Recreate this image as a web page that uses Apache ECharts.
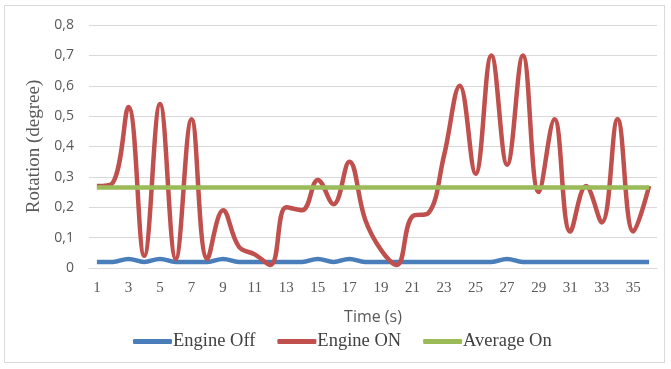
<!DOCTYPE html>
<html>
<head>
<meta charset="utf-8">
<script src="https://cdn.jsdelivr.net/npm/echarts@6/dist/echarts.min.js"></script>
<style>
  html, body { margin: 0; padding: 0; background: #fff; }
  #frame { position: absolute; left: 4px; top: 5px; width: 661px; height: 358px; border: 1px solid #d9d9d9; box-sizing: border-box; }
  #chart { width: 671px; height: 369px; }
</style>
</head>
<body>
<div id="frame"></div>
<div id="chart"></div>
<script>
// Time in seconds
const categories = Array.from({length: 36}, (_, i) => String(i + 1));

const engineOff = [0.02, 0.02, 0.03, 0.02, 0.03, 0.02, 0.02, 0.02, 0.03, 0.02, 0.02, 0.02,
                   0.02, 0.02, 0.03, 0.02, 0.03, 0.02, 0.02, 0.02, 0.02, 0.02, 0.02, 0.02,
                   0.02, 0.02, 0.03, 0.02, 0.02, 0.02, 0.02, 0.02, 0.02, 0.02, 0.02, 0.02];

const engineOn = [0.27, 0.28, 0.53, 0.04, 0.54, 0.03, 0.49, 0.03, 0.19, 0.07, 0.045, 0.01,
                  0.20, 0.19, 0.29, 0.21, 0.35, 0.16, 0.06, 0.01, 0.17, 0.18, 0.37, 0.60,
                  0.31, 0.70, 0.34, 0.70, 0.25, 0.49, 0.12, 0.27, 0.15, 0.49, 0.12, 0.27];

const averageOn = categories.map(() => 0.265);

const yTicks = [0, 0.1, 0.2, 0.3, 0.4, 0.5, 0.6, 0.7, 0.8];

const chart = echarts.init(document.getElementById('chart'));
const serif = '"Liberation Serif", "DejaVu Serif", serif';
const sans = '"Open Sans", "Liberation Sans", sans-serif';

const lineSeries = (name, data, color) => ({
  name, type: 'line', data, smooth: 0.4, symbol: 'none',
  lineStyle: { color, width: 4.5 }, itemStyle: { color }
});

chart.setOption({
  animation: false,
  grid: { left: 89, right: 14, top: 25, bottom: 101 },
  legend: {
    top: 332, left: 133, padding: 0,
    itemWidth: 39, itemHeight: 5, itemGap: 22, icon: 'roundRect',
    textStyle: { fontFamily: serif, fontSize: 18.5, color: '#404040', padding: [0, 0, 0, -4] },
    data: ['Engine Off', 'Engine ON', 'Average On']
  },
  xAxis: {
    type: 'category', data: categories, boundaryGap: true,
    name: 'Time (s)', nameLocation: 'middle', nameGap: 41,
    nameTextStyle: { fontFamily: sans, fontSize: 16, color: '#595959' },
    axisLine: { lineStyle: { color: '#d9d9d9' } },
    axisTick: { show: false },
    axisLabel: { interval: 1, fontFamily: serif, fontSize: 15, color: '#595959', margin: 13 }
  },
  yAxis: {
    type: 'value', min: 0, max: 0.8, interval: 0.1,
    name: 'Rotation (degree)', nameLocation: 'middle', nameGap: 39,
    nameTextStyle: { fontFamily: serif, fontSize: 19, color: '#595959' },
    axisLine: { show: false }, axisTick: { show: false },
    splitLine: { lineStyle: { color: '#d9d9d9', width: 1 } },
    axisLabel: {
      fontFamily: sans, fontSize: 14, color: '#595959', margin: 15,
      formatter: v => {
        const t = yTicks.find(x => Math.abs(x - v) < 1e-9);
        return t === 0 ? '0' : String(t ?? v).replace('.', ',');
      }
    }
  },
  series: [
    lineSeries('Engine Off', engineOff, '#4a7ebb'),
    lineSeries('Engine ON', engineOn, '#c0504d'),
    lineSeries('Average On', averageOn, '#9bbb59')
  ]
});
</script>
</body>
</html>
